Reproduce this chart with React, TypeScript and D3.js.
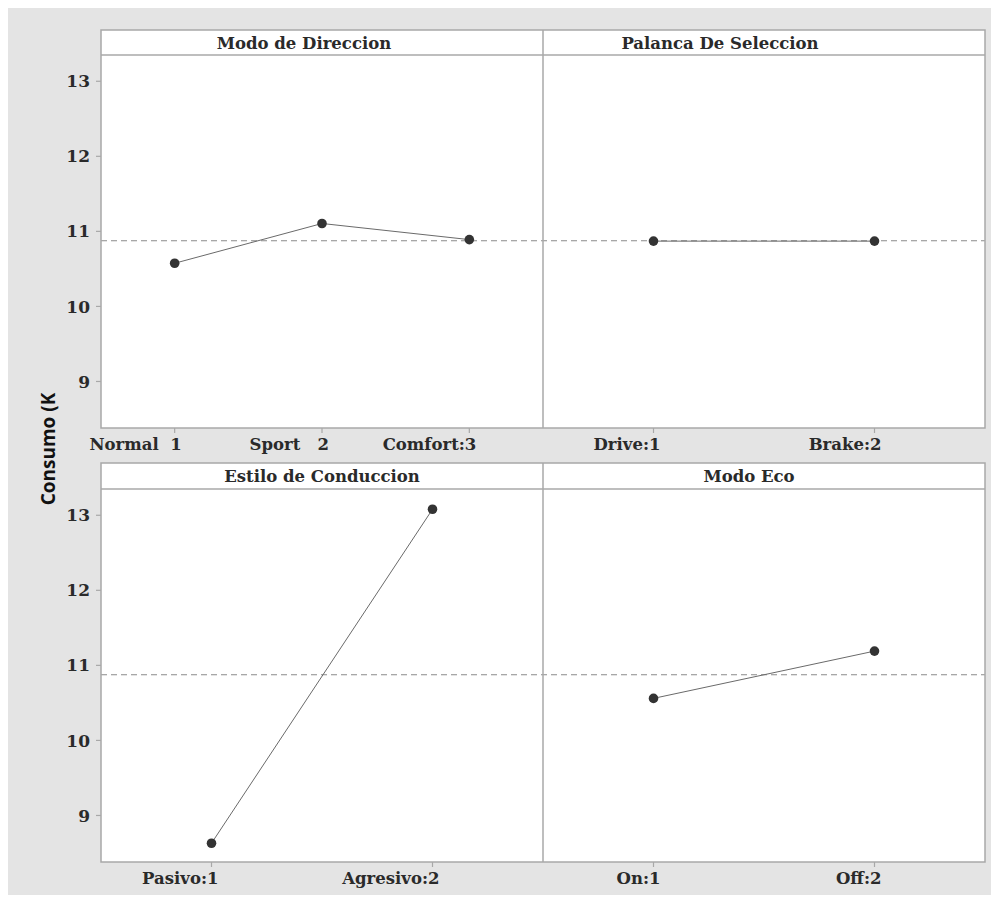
import React from "react";
import * as d3 from "d3";

const factors = ["Modo de Direccion", "Palanca De Seleccion", "Estilo de Conduccion", "Modo Eco"];
const levelLabels = [
  ["Normal  1", "Sport   2", "Comfort:3"],
  ["Drive:1", "Brake:2"],
  ["Pasivo:1", "Agresivo:2"],
  ["On:1", "Off:2"],
];
const means = [
  [10.575, 11.105, 10.89],
  [10.87, 10.87],
  [8.63, 13.08],
  [10.56, 11.19],
];
const grandMean = 10.875;
const yTicks = [9, 10, 11, 12, 13];
const yTitle = "Consumo (K";

const W = 991;
const H = 899;
const colX = [101, 543, 985];
const rows = [
  { top: 30, strip: 55, bottom: 428 },
  { top: 463, strip: 489, bottom: 862 },
];
const titleShift = [-18, -44, 0, -15];
const serif = "'DejaVu Serif', serif";
const border = "#a8a8a8";
const textCol = "#2a2a2a";

export default function App() {
  return (
    <svg width={W} height={H} style={{ position: "absolute", left: 0, top: 0 }}>
      <rect x={0} y={0} width={W} height={H} fill="#fff" />
      <rect x={8} y={8} width={W - 8} height={887} fill="#e4e4e4" />
      {rows.map((r, ri) => {
        const y = d3.scaleLinear().domain([8.38, 13.35]).range([r.bottom, r.strip]);
        return (
          <g key={ri}>
            <rect x={colX[0]} y={r.top} width={colX[2] - colX[0]} height={r.bottom - r.top} fill="#fff" />
            <line x1={colX[0]} x2={colX[2]} y1={y(grandMean)} y2={y(grandMean)} stroke="#8a8a8a" strokeWidth={1.2} strokeDasharray="6,4" />
            {yTicks.map((t) => (
              <g key={t}>
                <line x1={colX[0] - 5} x2={colX[0]} y1={y(t)} y2={y(t)} stroke={border} strokeWidth={1.2} />
                <text x={colX[0] - 11} y={y(t)} dy="0.36em" textAnchor="end" fontFamily={serif} fontWeight="bold" fontSize={17} fill={textCol}>{t}</text>
              </g>
            ))}
            {[0, 1].map((ci) => {
              const fi = ri * 2 + ci;
              const x0 = colX[ci];
              const x1 = colX[ci + 1];
              const x = d3.scalePoint<number>().domain(d3.range(means[fi].length)).range([x0, x1]).padding(0.5);
              const line = d3.line<number>().x((_, i) => x(i)!).y((v) => y(v));
              return (
                <g key={ci}>
                  <text x={(x0 + x1) / 2 + titleShift[fi]} y={(r.top + r.strip) / 2} dy="0.37em" textAnchor="middle" fontFamily={serif} fontWeight="bold" fontSize={16.5} fill={textCol}>{factors[fi]}</text>
                  <path d={line(means[fi])!} fill="none" stroke="#6a6a6a" strokeWidth={1} />
                  {means[fi].map((v, i) => (
                    <circle key={i} cx={x(i)} cy={y(v)} r={4.8} fill="#333" />
                  ))}
                  {levelLabels[fi].map((lab, i) => (
                    <g key={i}>
                      <line x1={x(i)} x2={x(i)} y1={r.bottom} y2={r.bottom + 5} stroke={border} strokeWidth={1.2} />
                      <text x={x(i)! + 7} y={r.bottom + 22} textAnchor="end" fontFamily={serif} fontWeight="bold" fontSize={16.5} fill={textCol} style={{ whiteSpace: "pre" }}>{lab}</text>
                    </g>
                  ))}
                </g>
              );
            })}
            <line x1={colX[0]} x2={colX[2]} y1={r.strip} y2={r.strip} stroke={border} strokeWidth={1.5} />
            <line x1={colX[1]} x2={colX[1]} y1={r.top} y2={r.bottom} stroke={border} strokeWidth={1.5} />
            <rect x={colX[0]} y={r.top} width={colX[2] - colX[0]} height={r.bottom - r.top} fill="none" stroke={border} strokeWidth={1.5} />
          </g>
        );
      })}
      <text transform="translate(55,449) rotate(-90)" textAnchor="middle" fontFamily="'Open Sans', sans-serif" fontWeight="bold" fontSize={19} fill="#111">{yTitle}</text>
    </svg>
  );
}
